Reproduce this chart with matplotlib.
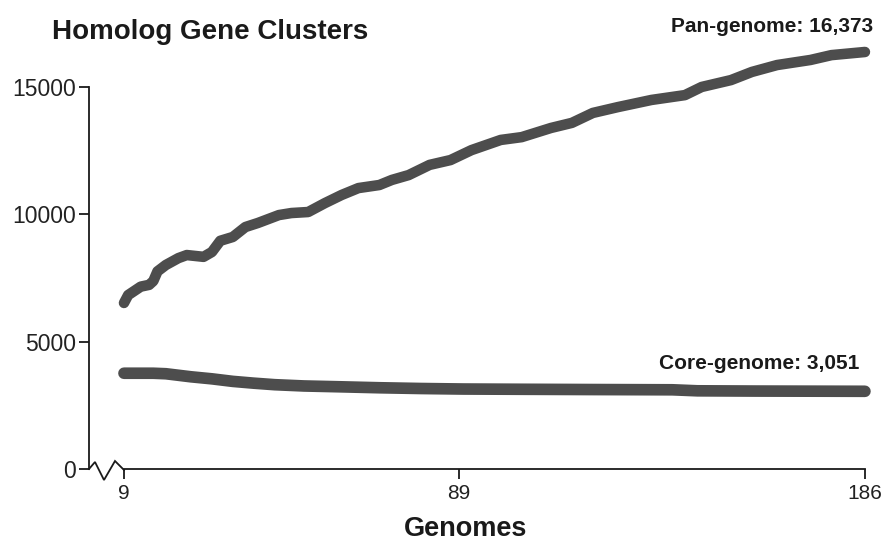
import matplotlib
matplotlib.use("Agg")
import matplotlib.pyplot as plt
from matplotlib import transforms

plt.rcParams['font.family'] = ['Liberation Sans', 'DejaVu Sans']

# Number of genomes sampled vs. homolog gene clusters
pan_genomes = [9, 10, 13, 15, 16, 17, 19, 22, 24, 28, 30, 32, 35, 38, 41, 46, 49, 53, 57,
               61, 65, 70, 73, 77, 82, 87, 92, 99, 104, 111, 116, 121, 127, 135,
               143, 147, 154, 159, 165, 173, 178, 186]
pan_clusters = [6520, 6830, 7160, 7230, 7380, 7760, 8010, 8280, 8400, 8330, 8520, 8960, 9110,
                9500, 9660, 9970, 10050, 10090, 10440, 10760, 11030, 11150, 11350,
                11540, 11940, 12130, 12520, 12920, 13030, 13390, 13590, 13980,
                14210, 14490, 14680, 15000, 15270, 15590, 15860, 16060, 16250, 16373]

core_genomes = [9, 12, 16, 19, 25, 30, 35, 40, 45, 52, 60, 70, 80, 90, 104, 120,
                140, 146, 160, 175, 186]
core_clusters = [3760, 3760, 3760, 3740, 3620, 3540, 3440, 3370, 3310, 3260, 3230,
                 3190, 3160, 3140, 3130, 3120, 3110, 3070, 3060, 3055, 3051]

x_ticks = [9, 89, 186]
y_ticks = [0, 5000, 10000, 15000]

line_color = '#4d4d4d'
ink = '#1a1a1a'

W, H = 881, 542
fig = plt.figure(figsize=(W / 100, H / 100), dpi=100)
ax = fig.add_axes([89 / W, 1 - 469 / H, (880 - 89) / W, (469 - 20) / H])

ax.set_xlim(0.64, 189.6)
ax.set_ylim(0, 17629)

ax.plot(pan_genomes, pan_clusters, color=line_color, lw=7.6,
        solid_capstyle='round', solid_joinstyle='round', clip_on=False)
ax.plot(core_genomes, core_clusters, color=line_color, lw=8.4,
        solid_capstyle='round', solid_joinstyle='round', clip_on=False)

# spines
for s in ('top', 'right'):
    ax.spines[s].set_visible(False)
ax.spines['left'].set_bounds(0, 15000)
ax.spines['bottom'].set_bounds(x_ticks[0], x_ticks[-1])
for s in ('left', 'bottom'):
    ax.spines[s].set_linewidth(1.3)
    ax.spines[s].set_color(ink)

ax.set_xticks(x_ticks)
ax.set_xticklabels([str(t) for t in x_ticks])
ax.set_yticks(y_ticks)
ax.set_yticklabels([str(t) for t in y_ticks])
ax.tick_params(axis='y', length=7.5, width=1.3, color=ink, pad=2,
               labelsize=16.5, labelcolor='#222222')
ax.tick_params(axis='x', length=7, width=1.3, color=ink, pad=4,
               labelsize=15, labelcolor='#222222')

# broken-axis zigzag between the y spine and the first genome tick
trans = transforms.blended_transform_factory(ax.transAxes, ax.transData)
zig_dx = [0, 6, 15, 26, 35]
zig_dy = [0, 7, -11, 8, -1]
zx = [d / (880 - 89) for d in zig_dx]
zy = [d / ((469 - 20) / 17629) for d in zig_dy]
ax.plot(zx, zy, color=ink, lw=1.3, transform=trans, clip_on=False,
        solid_joinstyle='miter')

# end-point labels
ax.annotate(f"Pan-genome: {pan_clusters[-1]:,}", (pan_genomes[-1], pan_clusters[-1]),
            xytext=(6, 18), textcoords='offset points', ha='right', va='center',
            fontsize=15, fontweight='bold', color=ink, annotation_clip=False)
ax.annotate(f"Core-genome: {core_clusters[-1]:,}", (core_genomes[-1], core_clusters[-1]),
            xytext=(-4, 20), textcoords='offset points', ha='right', va='center',
            fontsize=15, fontweight='bold', color=ink, annotation_clip=False)

fig.text(52 / W, 1 - 32 / H, "Homolog Gene Clusters", ha='left', va='center',
         fontsize=20, fontweight='bold', color=ink)
fig.text(466 / W, 1 - 529 / H, "Genomes", ha='center', va='center',
         fontsize=19.5, fontweight='bold', color=ink)

fig.savefig("out.png", dpi=100, facecolor='white')
